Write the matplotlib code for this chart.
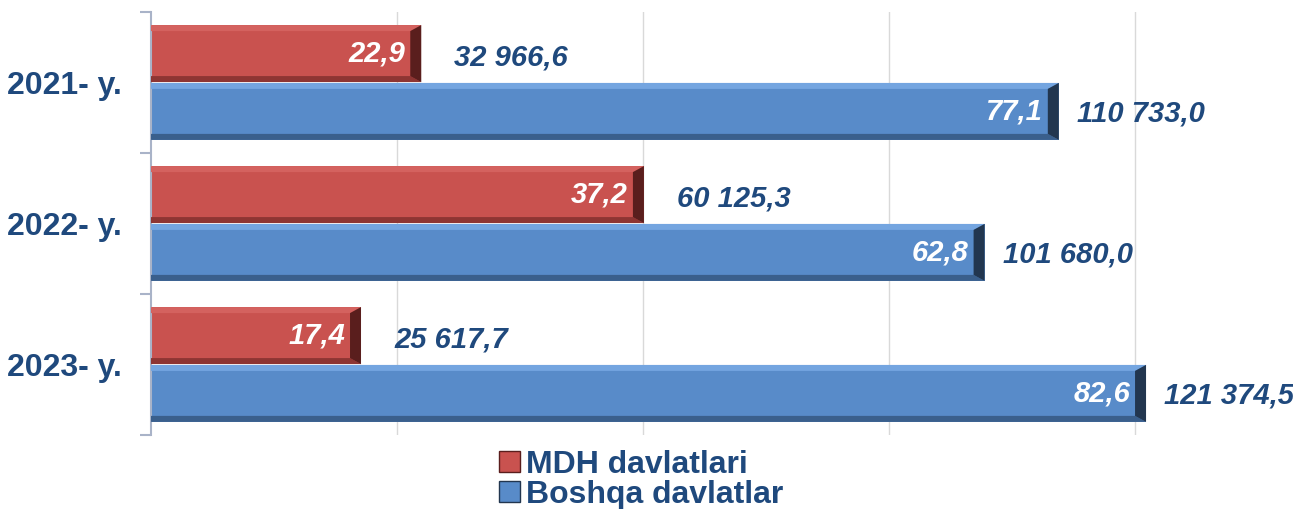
import matplotlib
matplotlib.use("Agg")
import matplotlib.pyplot as plt
from matplotlib.patches import Polygon, Patch
import numpy as np

years = ["2021- y.", "2022- y.", "2023- y."]
mdh_values = [32966.6, 60125.3, 25617.7]
mdh_share = ["22,9", "37,2", "17,4"]
other_values = [110733.0, 101680.0, 121374.5]
other_share = ["77,1", "62,8", "82,6"]
mdh_labels = ["32 966,6", "60 125,3", "25 617,7"]
other_labels = ["110 733,0", "101 680,0", "121 374,5"]

plt.rcParams['font.family'] = ['Liberation Sans', 'DejaVu Sans']
navy = "#1F497D"
red, red_light, red_dark, red_cap = "#C9524F", "#D4625F", "#8E3533", "#5A1E1D"
blue, blue_light, blue_dark, blue_cap = "#588BC9", "#74A5E0", "#3A5F8C", "#22364F"

fig = plt.figure(figsize=(12.93, 5.09), dpi=100)
ax = fig.add_axes([151 / 1293, 74 / 509, 1 - 151 / 1293, 423 / 509])

y = np.arange(len(years))
h = 0.404
off = 0.205
ax.barh(y - off, mdh_values, height=h, color=red, zorder=2)
ax.barh(y + off, other_values, height=h, color=blue, zorder=2)

px = 0.0082  # pixels per data unit along x
cap = 11 / px
bev = 6 / 141


def bevel(val, yc, light, dark, capc):
    top, bot = yc - h / 2, yc + h / 2
    # top light strip
    ax.add_patch(Polygon([(0, top), (val, top), (val - cap, top + bev), (0, top + bev)],
                         closed=True, color=light, zorder=3, lw=0))
    # bottom dark strip
    ax.add_patch(Polygon([(0, bot), (val, bot), (val - cap, bot - bev), (0, bot - bev)],
                         closed=True, color=dark, zorder=3, lw=0))
    # right end cap
    ax.add_patch(Polygon([(val, top), (val, bot), (val - cap, bot - bev), (val - cap, top + bev)],
                         closed=True, color=capc, zorder=3, lw=0))


for i in range(len(years)):
    bevel(mdh_values[i], y[i] - off, red_light, red_dark, red_cap)
    bevel(other_values[i], y[i] + off, blue_light, blue_dark, blue_cap)

lab_kw = dict(fontsize=21, fontweight="bold", fontstyle="italic", va="center")
for i in range(len(years)):
    ax.annotate(mdh_share[i], (mdh_values[i], y[i] - off), xytext=(-16, 0),
                textcoords="offset pixels", ha="right", color="white", zorder=4, **lab_kw)
    ax.annotate(other_share[i], (other_values[i], y[i] + off), xytext=(-16, 0),
                textcoords="offset pixels", ha="right", color="white", zorder=4, **lab_kw)
    ax.annotate(mdh_labels[i], (mdh_values[i], y[i] - off), xytext=(33, -4),
                textcoords="offset pixels", ha="left", color=navy, zorder=4, **lab_kw)
    ax.annotate(other_labels[i], (other_values[i], y[i] + off), xytext=(18, -2),
                textcoords="offset pixels", ha="left", color=navy, zorder=4, **lab_kw)

ax.set_xlim(0, 139300)
ax.set_ylim(len(years) - 0.5, -0.5)
ax.set_xticks([30000, 60000, 90000, 120000])
ax.xaxis.grid(True, color="#D9D9D9", lw=1)
ax.set_axisbelow(True)
ax.tick_params(axis="x", length=0, labelbottom=False)

ax.set_yticks(y)
ax.set_yticklabels(years, fontsize=23, fontweight="bold", color=navy)
ax.tick_params(axis="y", which="major", length=0, pad=21)
ax.set_yticks(np.arange(-0.5, len(years)), minor=True)
ax.tick_params(axis="y", which="minor", length=8, color="#A9B3C8", width=1.5)

for s in ["top", "right", "bottom"]:
    ax.spines[s].set_visible(False)
ax.spines["left"].set_color("#A9B3C8")
ax.spines["left"].set_linewidth(1.5)

handles = [Patch(facecolor=red, edgecolor=red_cap, label="MDH davlatlari"),
           Patch(facecolor=blue, edgecolor=blue_cap, label="Boshqa davlatlar")]
leg = fig.legend(handles=handles, loc="lower left", bbox_to_anchor=(480 / 1293, -0.039),
                 frameon=False, fontsize=23, handlelength=0.65, handleheight=0.65,
                 handletextpad=0.2, labelspacing=0.0, borderpad=0.1)
for t in leg.get_texts():
    t.set_color(navy)
    t.set_fontweight("bold")

fig.savefig("out.png", dpi=100)
